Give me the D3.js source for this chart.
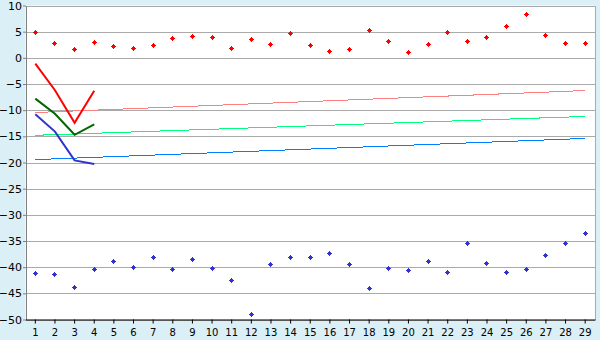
<!DOCTYPE html>
<html><head><meta charset="utf-8">
<script src="https://cdn.jsdelivr.net/npm/d3@7"></script>
<style>
html,body{margin:0;padding:0;background:#daeff6;}
svg{display:block;}
text{font-family:"DejaVu Sans",Verdana,sans-serif;fill:#000;}
</style></head>
<body>
<svg id="c" width="600" height="340"></svg>
<script>
const categories = d3.range(1, 30);
const redPoints = [4.8,2.7,1.6,2.9,2.2,1.7,2.3,3.7,4.1,3.9,1.8,3.5,2.5,4.6,2.3,1.2,1.6,5.2,3.1,1.0,2.5,4.8,3.1,3.9,6.0,8.3,4.3,2.7,2.7];
const bluePoints = [-41.2,-41.4,-43.9,-40.5,-38.9,-40.1,-38.2,-40.5,-38.5,-40.3,-42.6,-49.1,-39.5,-38.2,-38.2,-37.4,-39.5,-44.1,-40.3,-40.6,-38.9,-41.0,-35.5,-39.3,-41.0,-40.5,-37.8,-35.5,-33.6];
const lineCats = [1,2,3,4];
const redLine = [-1.1,-6.2,-12.4,-6.3];
const greenLine = [-7.8,-10.7,-14.7,-12.7];
const blueLine = [-10.8,-14.1,-19.6,-20.3];
const trendCats = [1,29];
const trendPink = [-10.45,-6.25];
const trendGreen = [-14.8,-11.2];
const trendBlue = [-19.45,-15.4];
const yTicks = d3.range(-50, 11, 5);

const svg = d3.select("#c");
const L = 25.5, R = 595, T = 5.5, B = 319.5;
const x = d3.scaleBand().domain(categories).range([L, R]);
const xc = d => x(d) + x.bandwidth() / 2;
const y = d3.scaleLinear().domain([-50, 10]).range([B, T]);

svg.append("rect").attr("x", L).attr("y", T).attr("width", R - L).attr("height", B - T).attr("fill", "#fff");

svg.append("g").selectAll("line").data(yTicks).join("line")
  .attr("x1", L).attr("x2", R)
  .attr("y1", d => Math.round(y(d)) + 0.5).attr("y2", d => Math.round(y(d)) + 0.5)
  .attr("stroke", "#aaaaaa").attr("stroke-width", 1).attr("shape-rendering", "crispEdges");
svg.append("line").attr("x1", R).attr("x2", R).attr("y1", T).attr("y2", B)
  .attr("stroke", "#aaaaaa").attr("shape-rendering", "crispEdges");

const trends = [[trendPink, "#ff8080"], [trendGreen, "#00ff80"], [trendBlue, "#0080ff"]];
trends.forEach(([vals, col]) => {
  svg.append("path")
    .datum(trendCats.map((c, i) => [c, vals[i]]))
    .attr("d", d3.line().x(d => xc(d[0])).y(d => y(d[1])))
    .attr("fill", "none").attr("stroke", col).attr("stroke-width", 1)
    .attr("shape-rendering", "crispEdges");
});

const lines = [[redLine, "#ff0000"], [greenLine, "#006600"], [blueLine, "#3333cc"]];
lines.forEach(([vals, col]) => {
  svg.append("path")
    .datum(lineCats.map((c, i) => [c, vals[i]]))
    .attr("d", d3.line().x(d => xc(d[0])).y(d => y(d[1])))
    .attr("fill", "none").attr("stroke", col).attr("stroke-width", 2);
});

// pixel "thick plus" marker: rows of width 1,3,5,3,1
const marker = "M-0.5,-2.5h1v1h1v1h1v1h-1v1h-1v1h-1v-1h-1v-1h-1v-1h1v-1h1z";
[[redPoints, "#ff0000"], [bluePoints, "#3333cc"]].forEach(([vals, col]) => {
  svg.append("g").selectAll("path").data(vals).join("path")
    .attr("d", marker)
    .attr("transform", (d, i) => `translate(${Math.floor(xc(categories[i])) + 0.5},${Math.floor(y(d)) + 0.5})`)
    .attr("fill", col).attr("shape-rendering", "crispEdges");
});

const ya = svg.append("g").attr("transform", `translate(${L + 0.5},0)`)
  .call(d3.axisLeft(y).tickValues(yTicks).tickSize(3).tickPadding(1).tickSizeOuter(0));
ya.select(".domain").attr("stroke", "#808080");
ya.selectAll(".tick line").attr("stroke", "#808080");
ya.selectAll("text").attr("font-size", "11px").attr("font-family", "DejaVu Sans").attr("fill", "#000");

const xa = svg.append("g").attr("transform", `translate(0,${B})`)
  .call(d3.axisBottom(x).tickSize(4).tickPadding(5).tickSizeOuter(0));
xa.select(".domain").attr("stroke", "#000");
xa.selectAll(".tick line").attr("stroke", "#000");
xa.selectAll("text").attr("font-size", "10px").attr("font-family", "DejaVu Sans").attr("fill", "#000");
</script>
</body></html>
